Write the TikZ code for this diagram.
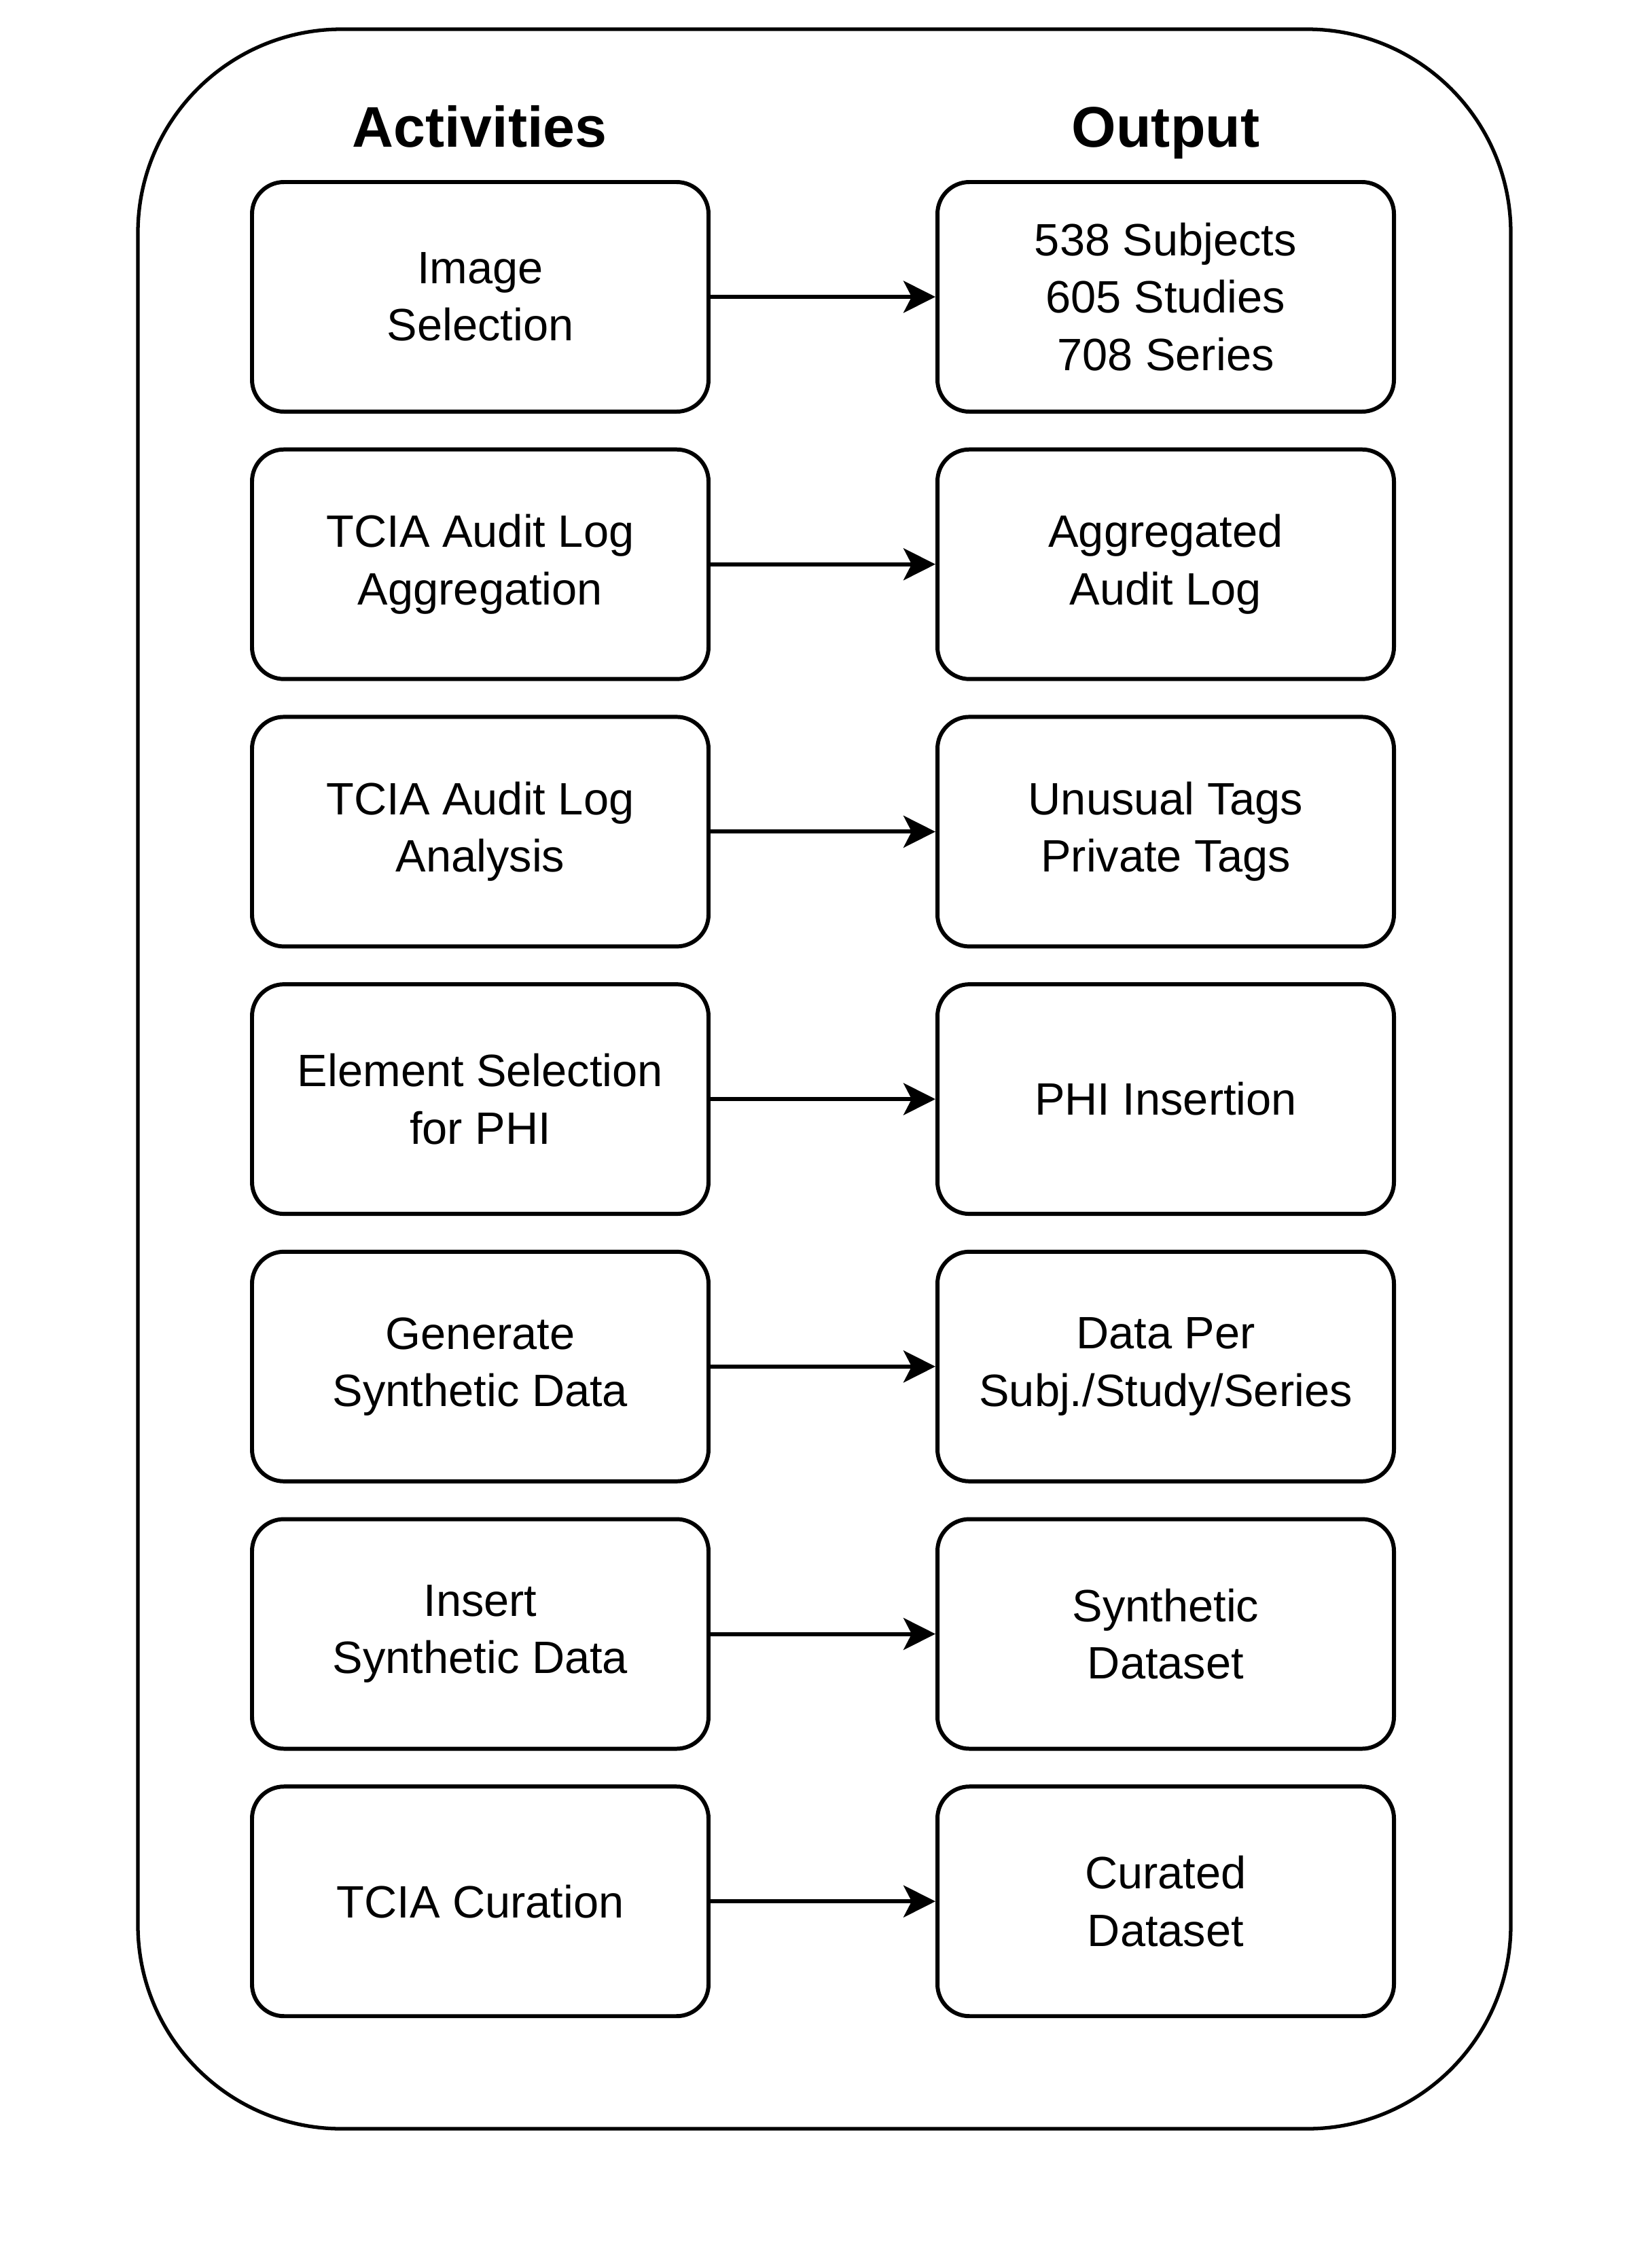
\documentclass[tikz,border=0pt]{standalone}
\usepackage{fontspec}
\setmainfont{Liberation Sans}
\usetikzlibrary{arrows.meta, positioning}

\begin{document}
\begin{tikzpicture}[
    box/.style={draw, line width=1.7pt, rounded corners=0.47cm, minimum width=6.72cm,
        minimum height=3.38cm, align=center, font=\fontsize{19}{24}\selectfont},
    head/.style={anchor=base, font=\fontsize{24}{29}\selectfont\bfseries},
    flow/.style={line width=1.7pt, -{Stealth[length=0.47cm, width=0.47cm, inset=0.12cm]}}]
            \useasboundingbox (0, 0) rectangle (24.26, -33.39);
            \draw[line width=1.5pt, rounded corners=3cm] (2.03, -0.43) rectangle (22.24, -31.34);

            \node[head] (acthead) at (7.06, -2.16) {Activities};
            \node[head] (outhead) at (17.16, -2.16) {Output};

            \node[box] (select) at (7.07, -4.37) {Image\\Selection};
            \node[box] (counts) at (17.16, -4.37) {538 Subjects\\605 Studies\\708 Series};
            \node[box] (aggr) at (7.07, -8.307) {TCIA Audit Log\\Aggregation};
            \node[box] (aggrlog) at (17.16, -8.307) {Aggregated\\Audit Log};
            \node[box] (anal) at (7.07, -12.244) {TCIA Audit Log\\Analysis};
            \node[box] (tags) at (17.16, -12.244) {Unusual Tags\\Private Tags};
            \node[box] (elem) at (7.07, -16.181) {Element Selection\\for PHI};
            \node[box] (phi) at (17.16, -16.181) {PHI Insertion};
            \node[box] (gen) at (7.07, -20.118) {Generate\\Synthetic Data};
            \node[box] (perdata) at (17.16, -20.118) {Data Per\\Subj./Study/Series};
            \node[box] (insert) at (7.07, -24.055) {Insert\\Synthetic Data};
            \node[box] (synth) at (17.16, -24.055) {Synthetic\\Dataset};
            \node[box] (cur) at (7.07, -27.992) {TCIA Curation};
            \node[box] (curset) at (17.16, -27.992) {Curated\\Dataset};

            \draw[flow] (select) -- (counts);
            \draw[flow] (aggr) -- (aggrlog);
            \draw[flow] (anal) -- (tags);
            \draw[flow] (elem) -- (phi);
            \draw[flow] (gen) -- (perdata);
            \draw[flow] (insert) -- (synth);
            \draw[flow] (cur) -- (curset);
        \end{tikzpicture}
\end{document}
